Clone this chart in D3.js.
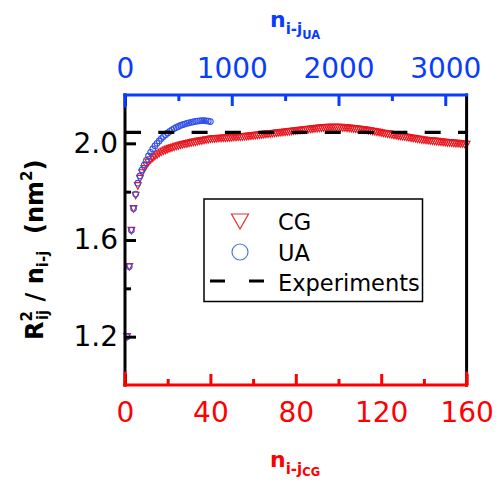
<!DOCTYPE html>
<html><head><meta charset="utf-8">
<script src="https://cdn.jsdelivr.net/npm/d3@7"></script>
<style>body{margin:0;background:#fff} svg{display:block}</style>
</head><body><svg id="c" width="496" height="480"></svg>
<script>
// ---- data ----
const cgValues = [
1.200,1.490,1.640,1.730,1.785,1.825,1.855,1.878,1.896,1.910,
1.922,1.932,1.940,1.947,1.953,1.959,1.964,1.968,1.972,1.976,
1.979,1.982,1.985,1.988,1.990,1.993,1.995,1.997,1.999,2.001,
2.003,2.005,2.006,2.008,2.010,2.011,2.013,2.015,2.016,2.018,
2.019,2.019,2.020,2.021,2.021,2.022,2.022,2.023,2.023,2.024,
2.025,2.025,2.026,2.026,2.027,2.028,2.029,2.030,2.031,2.032,
2.033,2.034,2.035,2.036,2.037,2.038,2.039,2.040,2.041,2.042,
2.043,2.044,2.045,2.046,2.047,2.048,2.049,2.050,2.051,2.052,
2.053,2.054,2.055,2.056,2.057,2.058,2.059,2.060,2.061,2.062,
2.063,2.064,2.065,2.065,2.066,2.066,2.066,2.066,2.066,2.066,
2.066,2.065,2.065,2.064,2.063,2.062,2.061,2.060,2.059,2.058,
2.057,2.056,2.055,2.053,2.052,2.050,2.049,2.047,2.046,2.044,
2.042,2.041,2.039,2.038,2.036,2.034,2.033,2.031,2.030,2.028,
2.027,2.025,2.024,2.022,2.021,2.020,2.018,2.017,2.015,2.014,
2.013,2.012,2.011,2.010,2.009,2.008,2.007,2.006,2.005,2.004,
2.003,2.003,2.002,2.001,2.000,2.000,1.999,1.998,1.997,1.996
];
const uaValues = [
1.200,1.490,1.640,1.730,1.790,1.835,1.865,1.890,1.910,1.930,
1.948,1.963,1.977,1.990,2.000,2.010,2.020,2.028,2.036,2.043,
2.050,2.056,2.061,2.066,2.070,2.074,2.077,2.080,2.083,2.085,
2.087,2.089,2.091,2.092,2.093,2.094,2.094,2.093,2.092,2.090
];
const cgN = d3.range(1, cgValues.length + 1);          // n = 1,2,...,160
const uaN = d3.range(1, uaValues.length + 1).map(k => k * 20); // n = 20,...,800
const experimentValue = 2.045;
const cgTicksMajor = [0, 40, 80, 120, 160];
const cgTicksMinor = [20, 60, 100, 140];
const uaTicksMajor = [0, 1000, 2000, 3000];
const uaTicksMinor = [500, 1500, 2500];
const yTicksMajor = [1.2, 1.6, 2.0];
const yTicksMinor = [1.4, 1.8];
const legendLabels = ["CG", "UA", "Experiments"];

// ---- layout ----
const L = 125, R = 466.6, T = 95, B = 385;
const RED = "#ff0000", BLUE = "#0a3cff";
const MRED = "#e8141c", MBLUE = "#3050e6";
const FONT = "DejaVu Sans";

const svg = d3.select("#c");
const xCG = d3.scaleLinear().domain([0, 160]).range([L, R]);
const xUA = d3.scaleLinear().domain([0, 3200]).range([L, R]);
const y = d3.scaleLinear().domain([1.0, 2.2]).range([B, T]);

// ---- markers ----
const tri = "M-3.4,-3L3.4,-3L0,3.6Z";
svg.append("g").selectAll("path").data(cgValues).join("path")
  .attr("d", tri)
  .attr("transform", (d, i) => `translate(${xCG(cgN[i])},${y(d)})`)
  .attr("fill", "none").attr("stroke", MRED).attr("stroke-width", 1.1);

svg.append("g").selectAll("circle").data(uaValues).join("circle")
  .attr("cx", (d, i) => xUA(uaN[i])).attr("cy", d => y(d)).attr("r", 2.8)
  .attr("fill", "none").attr("stroke", MBLUE).attr("stroke-width", 1.1);

// ---- experiments line ----
svg.append("line")
  .attr("x1", L).attr("x2", R).attr("y1", y(experimentValue)).attr("y2", y(experimentValue))
  .attr("stroke", "#000").attr("stroke-width", 3.2).attr("stroke-dasharray", "16,17.3");

// ---- axes ----
function styleAxis(g, color) {
  g.select(".domain").remove();
  g.selectAll(".tick line").attr("stroke", color).attr("stroke-width", 3);
  g.selectAll(".tick text").attr("fill", color).attr("font-family", FONT).attr("font-size", 28);
}
// bottom (CG)
svg.append("g").attr("transform", `translate(0,${B})`)
  .call(d3.axisBottom(xCG).tickValues(cgTicksMajor).tickSize(-11).tickPadding(17).tickFormat(d3.format("d")))
  .call(g => styleAxis(g, RED));
svg.append("g").attr("transform", `translate(0,${B})`)
  .call(d3.axisBottom(xCG).tickValues(cgTicksMinor).tickSize(-6).tickFormat(""))
  .call(g => styleAxis(g, RED));
// top (UA)
svg.append("g").attr("transform", `translate(0,${T})`)
  .call(d3.axisTop(xUA).tickValues(uaTicksMajor).tickSize(-11).tickPadding(17).tickFormat(d3.format("d")))
  .call(g => styleAxis(g, BLUE));
svg.append("g").attr("transform", `translate(0,${T})`)
  .call(d3.axisTop(xUA).tickValues(uaTicksMinor).tickSize(-6).tickFormat(""))
  .call(g => styleAxis(g, BLUE));
// left
svg.append("g").attr("transform", `translate(${L},0)`)
  .call(d3.axisLeft(y).tickValues(yTicksMajor).tickSize(-11).tickPadding(7).tickFormat(d3.format(".1f")))
  .call(g => styleAxis(g, "#000"));
svg.append("g").attr("transform", `translate(${L},0)`)
  .call(d3.axisLeft(y).tickValues(yTicksMinor).tickSize(-6).tickFormat(""))
  .call(g => styleAxis(g, "#000"));

// ---- spines ----
const sp = svg.append("g").attr("stroke-width", 3).attr("stroke-linecap", "square");
sp.append("line").attr("x1", L).attr("x2", L).attr("y1", T).attr("y2", B).attr("stroke", "#000");
sp.append("line").attr("x1", R).attr("x2", R).attr("y1", T).attr("y2", B).attr("stroke", "#000");
sp.append("line").attr("x1", L).attr("x2", R).attr("y1", B).attr("y2", B).attr("stroke", RED);
sp.append("line").attr("x1", L).attr("x2", L).attr("y1", B - 12).attr("y2", B).attr("stroke", RED);
sp.append("line").attr("x1", R).attr("x2", R).attr("y1", B - 12).attr("y2", B).attr("stroke", RED);
sp.append("line").attr("x1", L).attr("x2", R).attr("y1", T).attr("y2", T).attr("stroke", BLUE);
sp.append("line").attr("x1", L).attr("x2", L).attr("y1", T).attr("y2", T + 11).attr("stroke", BLUE);

// ---- axis titles ----
function subTitle(x, yb, color, sub2, d2) {
  const t = svg.append("text").attr("x", x).attr("y", yb).attr("fill", color)
    .attr("font-family", FONT).attr("font-weight", "bold");
  t.append("tspan").attr("font-size", 22).text("n");
  t.append("tspan").attr("font-size", 15).attr("dy", d2[0]).text("i-j");
  t.append("tspan").attr("font-size", 11.5).attr("dy", d2[1]).text(sub2);
}
subTitle(270, 467, RED, "CG", [7, 1.5]);
subTitle(270, 27, BLUE, "UA", [6.5, 5]);

// left title (rotated)
const yl = svg.append("g").attr("transform", "translate(43,340) rotate(-90)")
  .append("text").attr("font-family", FONT).attr("font-weight", "bold").attr("fill", "#000");
yl.append("tspan").attr("font-size", 24).text("R");
yl.append("tspan").attr("font-size", 15).attr("dy", -11).text("2");
yl.append("tspan").attr("font-size", 15).attr("dx", -9).attr("dy", 16).text("ij");
yl.append("tspan").attr("font-size", 24).attr("dy", -5).text(" / n");
yl.append("tspan").attr("font-size", 15).attr("dy", 5).text("i-j");
yl.append("tspan").attr("font-size", 24).attr("dy", -5).text("\u00a0\u00a0(nm");
yl.append("tspan").attr("font-size", 15).attr("dy", -11).text("2");
yl.append("tspan").attr("font-size", 24).attr("dy", 11).text(")");

// ---- legend ----
const lg = svg.append("g");
lg.append("rect").attr("x", 204).attr("y", 199).attr("width", 218.5).attr("height", 102.5)
  .attr("fill", "#fff").attr("stroke", "#000").attr("stroke-width", 1.5);
lg.append("path").attr("d", "M-8.5,-7L8.5,-7L0,8Z").attr("transform", "translate(240,221)")
  .attr("fill", "none").attr("stroke", "#e83030").attr("stroke-width", 1.2);
lg.append("circle").attr("cx", 240).attr("cy", 252).attr("r", 8)
  .attr("fill", "none").attr("stroke", "#4a78e8").attr("stroke-width", 1.2);
lg.append("line").attr("x1", 210).attr("x2", 265).attr("y1", 281).attr("y2", 281)
  .attr("stroke", "#000").attr("stroke-width", 3).attr("stroke-dasharray", "15,24");
const lgY = [230, 260.5, 291];
lg.selectAll("text").data(legendLabels).join("text")
  .attr("x", 278).attr("y", (d, i) => lgY[i]).text(d => d)
  .attr("font-family", FONT).attr("font-size", 22.5).attr("fill", "#000");
</script></body></html>
